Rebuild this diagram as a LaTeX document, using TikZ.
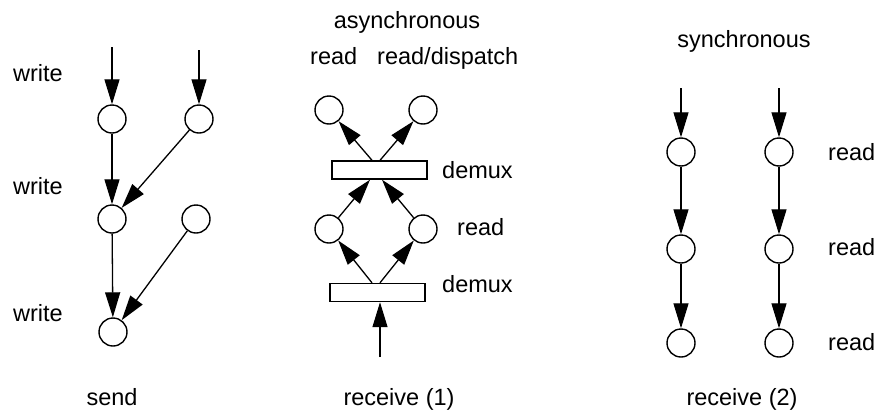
\documentclass[tikz,border=0pt]{standalone}
\usepackage{fontspec}
\setmainfont{Liberation Sans}
\usetikzlibrary{arrows.meta}
\begin{document}
\begin{tikzpicture}[x=1pt,y=-1pt,
  every node/.style={font=\fontsize{23.5}{28}\selectfont},
  st/.style={circle,draw,line width=1.4pt,minimum size=28pt,inner sep=0pt},
  bx/.style={draw,line width=1.4pt,minimum width=95pt,minimum height=18pt,inner sep=0pt},
  lbl/.style={inner sep=0pt},
  arr/.style={line width=1.3pt,-{Triangle[length=25pt,width=15pt]}}]
\useasboundingbox (0,0) rectangle (882,410);
% ---------- send ----------
\node[st] (a1) at (112,119) {};
\node[st] (a2) at (199,119) {};
\node[st] (b1) at (112,219) {};
\node[st] (b2) at (196,219) {};
\node[st] (c1) at (113,332) {};
\coordinate (ta1) at (112,47);
\coordinate (ta2) at (199,50);
\draw[arr] (ta1) -- (a1);
\draw[arr] (ta2) -- (a2);
\draw[arr] (a1) -- (b1);
\draw[arr] (a2) -- (b1);
\draw[arr] (b1) -- (c1);
\draw[arr] (b2) -- (c1);
\node[lbl,anchor=base west] (w1) at (13,81) {write};
\node[lbl,anchor=base west] (w2) at (13,194) {write};
\node[lbl,anchor=base west] (w3) at (13,321) {write};
\node[lbl,anchor=base] (send) at (112,405) {send};
% ---------- receive (1) ----------
\node[lbl,anchor=base] (async) at (407,28) {asynchronous};
\node[lbl,anchor=base west] (rd0) at (310,64) {read};
\node[lbl,anchor=base west] (rdd) at (377,64) {read/dispatch};
\node[st] (t1) at (329,110) {};
\node[st] (t2) at (423,110) {};
\node[bx] (d1) at (379.5,170) {};
\node[st] (m1) at (329,229) {};
\node[st] (m2) at (423,229) {};
\node[bx] (d2) at (377.5,292.5) {};
\coordinate (in1) at (380,357);
\draw[arr] ([xshift=-7.5pt]d1.north) -- (t1);
\draw[arr] ([xshift=0.5pt]d1.north) -- (t2);
\draw[arr] (m1) -- ([xshift=-9.5pt]d1.south);
\draw[arr] (m2) -- ([xshift=2.5pt]d1.south);
\draw[arr] ([xshift=-5.5pt]d2.north) -- (m1);
\draw[arr] ([xshift=2.5pt]d2.north) -- (m2);
\draw[arr] (in1) -- (in1 |- d2.south);
\node[lbl,anchor=base west] (dm1) at (442,178) {demux};
\node[lbl,anchor=base west] (rdm) at (457,235) {read};
\node[lbl,anchor=base west] (dm2) at (442,292) {demux};
\node[lbl,anchor=base] (rec1) at (399,405) {receive (1)};
% ---------- receive (2) ----------
\node[lbl,anchor=base] (sync) at (744,47) {synchronous};
\foreach \c/\x in {p/681,q/779}{
  \node[st] (\c1) at (\x,152) {};
  \node[st] (\c2) at (\x,249) {};
  \node[st] (\c3) at (\x,343) {};
  \coordinate (\c0) at (\x,88);
  \draw[arr] (\c0) -- (\c1);
  \draw[arr] (\c1) -- (\c2);
  \draw[arr] (\c2) -- (\c3);
}
\node[lbl,anchor=base west] (r1) at (828,160) {read};
\node[lbl,anchor=base west] (r2) at (828,255) {read};
\node[lbl,anchor=base west] (r3) at (828,350) {read};
\node[lbl,anchor=base] (rec2) at (742,405) {receive (2)};
\end{tikzpicture}
\end{document}
